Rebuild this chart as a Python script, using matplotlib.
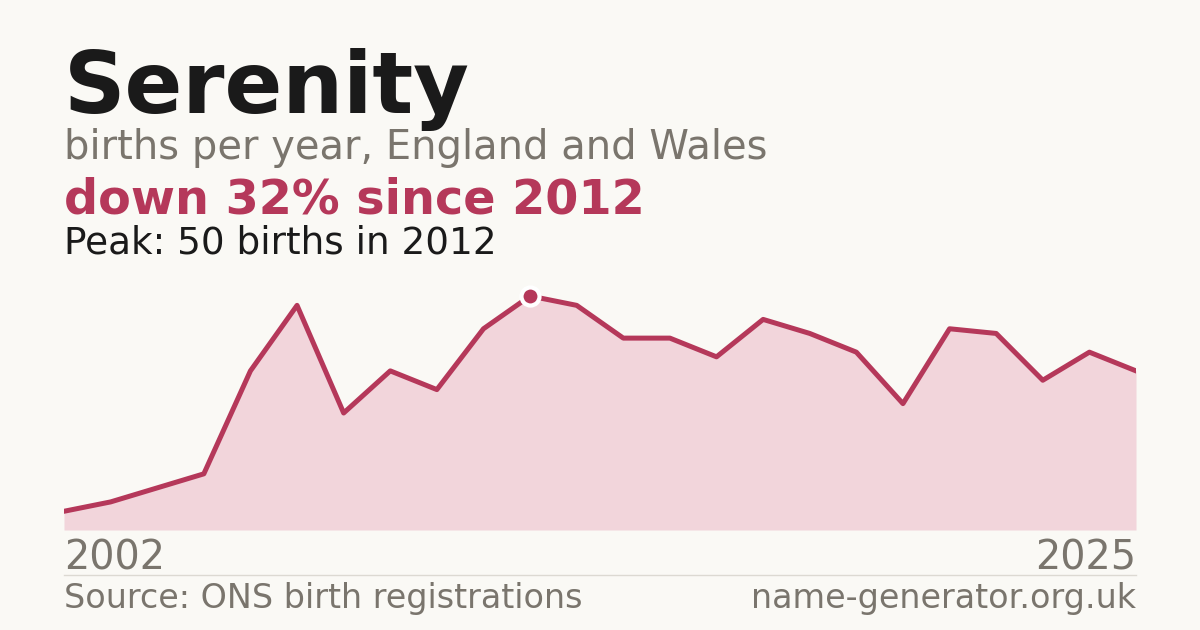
import matplotlib.pyplot as plt

years = list(range(2002, 2026))
births = [4, 6, 9, 12, 34, 48, 25, 34, 30, 43, 50, 48,
          41, 41, 37, 45, 42, 38, 27, 43, 42, 32, 38, 34]
peak_year = 2012
peak_value = 50

BG = '#faf9f5'
RED = '#b5385a'
FILL = '#f2d5db'
GREY = '#7a756d'
DARK = '#1a1a1a'

W, H = 1200, 630
fig = plt.figure(figsize=(12, 6.3), dpi=100)
fig.patch.set_facecolor(BG)

def fy(py):
    # pixel row from top -> figure fraction
    return 1 - py / H

ax = fig.add_axes([64 / W, fy(530), 1072 / W, 250 / H])
ax.set_facecolor(BG)
ax.fill_between(years, births, 0, color=FILL, lw=0)
ax.plot(years, births, color=RED, lw=3.6)
ax.plot([peak_year], [peak_value], 'o', ms=13, color=RED,
        markeredgecolor='white', markeredgewidth=3, zorder=5)
ax.set_xlim(years[0], years[-1])
ax.set_ylim(0, 250 / 4.68)
ax.axis('off')

fig.text(64 / W, fy(113), 'Serenity', fontsize=61.6, fontweight='bold',
         color=DARK, va='baseline')
fig.text(64 / W, fy(159), 'births per year, England and Wales',
         fontsize=28.8, color=GREY, va='baseline')
fig.text(64 / W, fy(214), 'down 32% since 2012', fontsize=34.4,
         fontweight='bold', color=RED, va='baseline')
fig.text(64 / W, fy(253), 'Peak: 50 births in 2012', fontsize=26.9,
         color=DARK, va='baseline')

fig.text(64 / W, fy(570), str(years[0]), fontsize=28.6, color=GREY,
         va='baseline')
fig.text(1136 / W, fy(570), str(years[-1]), fontsize=28.6, color=GREY,
         va='baseline', ha='right')

fig.add_artist(plt.Line2D([64 / W, 1136 / W], [fy(574.5), fy(574.5)],
                          color='#dcd9d2', lw=1))

fig.text(64 / W, fy(608), 'Source: ONS birth registrations', fontsize=24,
         color=GREY, va='baseline')
fig.text(1136 / W, fy(608), 'name-generator.org.uk', fontsize=24,
         color=GREY, va='baseline', ha='right')

fig.savefig('out.png', dpi=100, facecolor=BG)
